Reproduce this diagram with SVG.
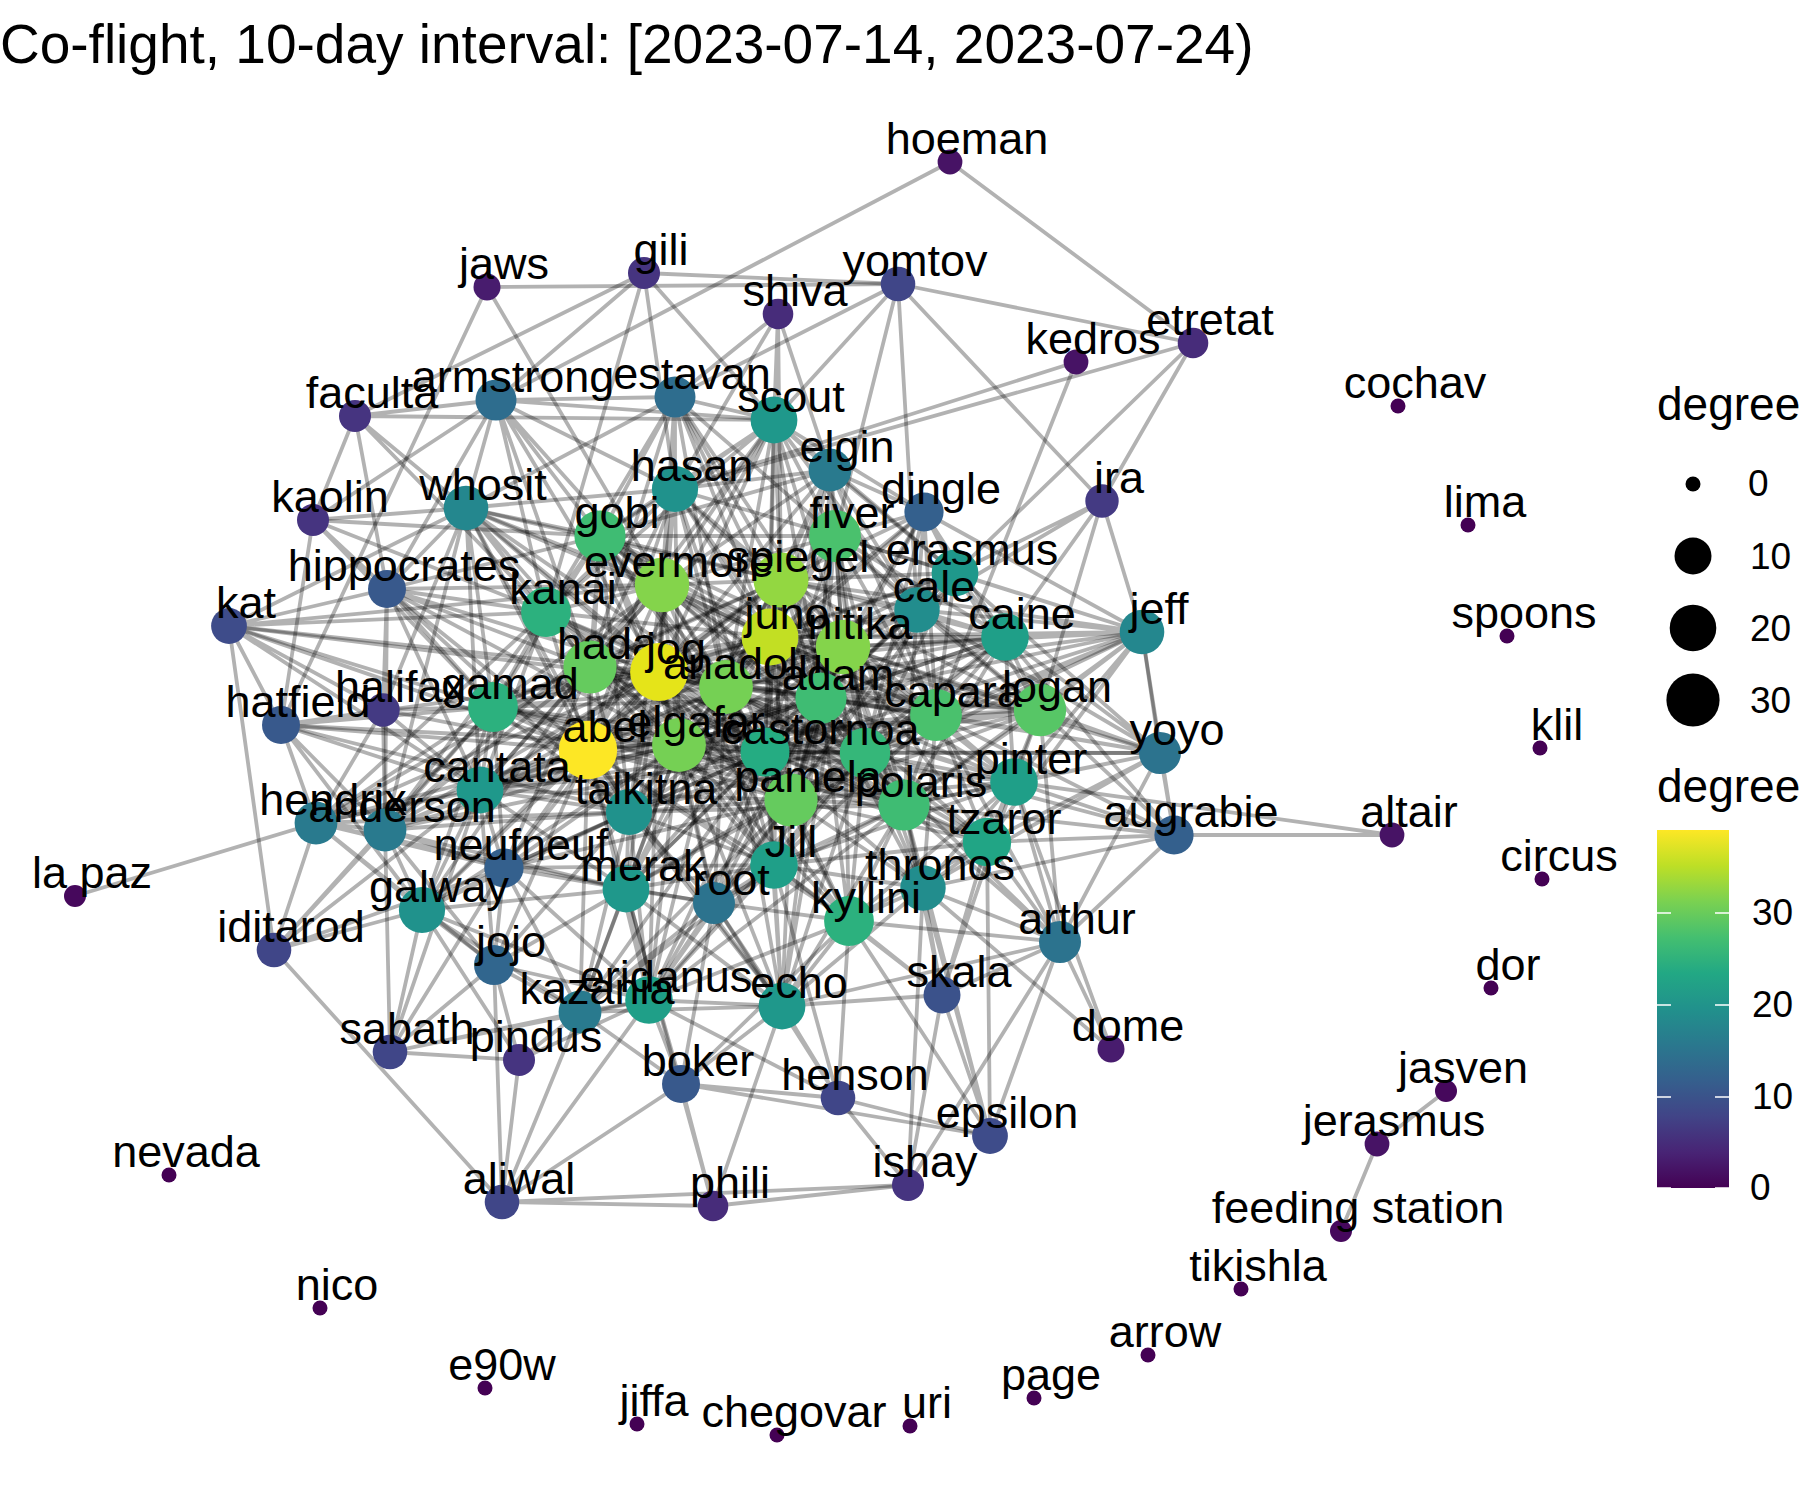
<svg xmlns="http://www.w3.org/2000/svg" width="1800" height="1500" viewBox="0 0 1800 1500">
<defs>
<style>
text{font-family:"Liberation Sans",Arial,Helvetica,sans-serif;fill:#000}
.title{font-size:55px}
.lbl{font-size:45px;text-anchor:middle}
.lgt{font-size:46px}
.lgl{font-size:37px}
.edge{fill:none;stroke:#000;stroke-opacity:0.3;stroke-width:3.8;stroke-linejoin:round}
.tick{stroke:#fff;stroke-width:1.6}
.c0{fill:#440154}.c1{fill:#46085c}.c2{fill:#471365}.c3{fill:#481c6e}.c5{fill:#472c7a}.c6{fill:#463480}.c7{fill:#443a83}.c8{fill:#404688}.c9{fill:#3e4c8a}.c10{fill:#3b528b}.c11{fill:#38598c}.c12{fill:#34608d}.c13{fill:#31668e}.c14{fill:#2e6d8e}.c15{fill:#2c738e}.c16{fill:#297a8e}.c18{fill:#24878e}.c19{fill:#228d8d}.c20{fill:#20928c}.c21{fill:#1f988b}.c22{fill:#1f9f88}.c23{fill:#21a585}.c24{fill:#25ac82}.c25{fill:#2cb17e}.c26{fill:#35b779}.c27{fill:#3fbc73}.c28{fill:#4ac16d}.c29{fill:#57c666}.c30{fill:#65cb5e}.c31{fill:#75d054}.c32{fill:#84d44b}.c33{fill:#93d741}.c36{fill:#c2df23}.c38{fill:#e5e419}.c39{fill:#fde725}
</style>
<linearGradient id="viridis" x1="0" y1="1" x2="0" y2="0">
<stop offset="0" stop-color="#440154"/><stop offset="0.1" stop-color="#482475"/><stop offset="0.2" stop-color="#414487"/><stop offset="0.3" stop-color="#355f8d"/><stop offset="0.4" stop-color="#2a788e"/><stop offset="0.5" stop-color="#21918c"/><stop offset="0.6" stop-color="#22a884"/><stop offset="0.7" stop-color="#44bf70"/><stop offset="0.8" stop-color="#7ad151"/><stop offset="0.9" stop-color="#bddf26"/><stop offset="1" stop-color="#fde725"/>
</linearGradient>
</defs>
<rect width="1800" height="1500" fill="#fff"/>
<text class="title" x="0" y="63">Co-flight, 10-day interval: [2023-07-14, 2023-07-24)</text>
<g id="edges">
<path class="edge" d="M496 400L950 162L1193 343"/>
<path class="edge" d="M898 284L487 287L281 725M662 585L487 287"/>
<path class="edge" d="M898 284L644 273L675 489M496 400L644 273L355 416M546 612L644 273L774 420"/>
<path class="edge" d="M1193 343L898 284L774 420M835 536L898 284L917 610M1102 501L898 284L675 397"/>
<path class="edge" d="M675 397L778 314L774 420M675 489L778 314L830 470M781 580L778 314"/>
<path class="edge" d="M936 715L1076 362L675 489"/>
<path class="edge" d="M675 489L1193 343L1102 501M917 610L1193 343"/>
<path class="edge" d="M774 420L355 416L496 400M313 520L355 416L387 589M546 612L355 416L466 508"/>
<path class="edge" d="M496 400L313 520L387 589M493 707L313 520L546 612M600 536L313 520"/>
<path class="edge" d="M274 950L229 626L281 725M387 589L229 626L546 612M493 707L229 626L383 710M662 585L229 626L659 672M480 790L229 626"/>
<path class="edge" d="M383 710L281 725L493 707M385 830L281 725L316 823M480 790L281 725L422 910M588 750L281 725L659 672M313 520L281 725"/>
<path class="edge" d="M502 1202L274 950L422 910M316 823L274 950L385 830M480 790L274 950L493 707M504 868L274 950"/>
<path class="edge" d="M75 896L316 823"/>
<path class="edge" d="M1174 835L1392 835L1014 782"/>
<path class="edge" d="M1446 1091L1377 1144L1341 1231"/>
<path class="edge" d="M519 1060L390 1052L580 1012M422 910L390 1052L494 965M649 1000L390 1052L504 868M480 790L390 1052L385 830"/>
<path class="edge" d="M502 1202L519 1060L580 1012M649 1000L519 1060L494 965M422 910L519 1060"/>
<path class="edge" d="M713 1206L502 1202L908 1185M649 1000L502 1202L681 1084M580 1012L502 1202L494 965"/>
<path class="edge" d="M908 1185L713 1206L681 1084M782 1006L713 1206L626 889"/>
<path class="edge" d="M838 1098L908 1185L942 995M1060 942L908 1185L923 888"/>
<path class="edge" d="M838 1098L681 1084L990 1136M649 1000L681 1084L782 1006M580 1012L681 1084L626 889M714 903L681 1084L849 921"/>
<path class="edge" d="M990 1136L838 1098L782 1006M774 865L838 1098L849 921M714 903L838 1098L649 1000"/>
<path class="edge" d="M942 995L990 1136L1060 942M849 921L990 1136L923 888M987 842L990 1136L904 805"/>
<path class="edge" d="M1060 942L942 995L782 1006M849 921L942 995L923 888M987 842L942 995L904 805M1014 782L942 995L774 865"/>
<path class="edge" d="M1060 942L1111 1049L923 888M1014 782L1111 1049"/>
<path class="edge" d="M1174 835L1060 942L1160 753M1014 782L1060 942L987 842M904 805L1060 942L923 888M849 921L1060 942L1040 710M865 753L1060 942L936 715M782 1006L1060 942"/>
<path class="edge" d="M1160 753L1174 835L1014 782M987 842L1174 835L1040 710M904 805L1174 835L923 888M936 715L1174 835L865 753M1142 632L1174 835L1005 637"/>
<path class="edge" d="M1142 632L1160 753L1040 710M1014 782L1160 753L1005 637M936 715L1160 753L987 842M843 647L1160 753L821 698M865 753L1160 753L904 805M917 610L1160 753L955 573M923 888L1160 753"/>
<path class="edge" d="M1102 501L1142 632L1005 637M1040 710L1142 632L917 610M955 573L1142 632L936 715M843 647L1142 632L770 637M821 698L1142 632L1014 782M865 753L1142 632L924 512M781 580L1142 632L835 536M904 805L1142 632L987 842"/>
<path class="edge" d="M1005 637L1102 501L1040 710M955 573L1102 501L917 610"/>
<path class="edge" d="M466 508L496 400L675 489M600 536L496 400L546 612M662 585L496 400L659 672M590 667L496 400L387 589M675 397L496 400L774 420"/>
<path class="edge" d="M675 489L675 397L600 536M662 585L675 397L781 580M774 420L675 397L546 612M659 672L675 397L770 637M466 508L675 397L835 536M726 687L675 397"/>
<path class="edge" d="M830 470L774 420L675 489M600 536L774 420L662 585M781 580L774 420L835 536M770 637L774 420L843 647M659 672L774 420L726 687M546 612L774 420L917 610M955 573L774 420L924 512M821 698L774 420"/>
<path class="edge" d="M675 489L830 470L835 536M781 580L830 470L770 637M843 647L830 470L917 610M955 573L830 470L924 512M662 585L830 470L726 687M821 698L830 470L659 672M600 536L830 470"/>
<path class="edge" d="M835 536L924 512L955 573M917 610L924 512L781 580M770 637L924 512L843 647M1005 637L924 512L936 715"/>
<path class="edge" d="M466 508L675 489L600 536M662 585L675 489L781 580M546 612L675 489L659 672M590 667L675 489L770 637M726 687L675 489L835 536M679 745L675 489L588 750"/>
<path class="edge" d="M313 520L466 508L387 589M600 536L466 508L546 612M662 585L466 508L659 672M590 667L466 508L493 707M588 750L466 508L383 710M229 626L466 508L480 790M385 830L466 508L679 745"/>
<path class="edge" d="M546 612L387 589L493 707M383 710L387 589L590 667M659 672L387 589L588 750M480 790L387 589L385 830M600 536L387 589"/>
<path class="edge" d="M493 707L383 710L385 830M480 790L383 710L588 750"/>
<path class="edge" d="M385 830L316 823L480 790M422 910L316 823L493 707M588 750L316 823L504 868M659 672L316 823L494 965M629 812L316 823L626 889M383 710L316 823"/>
<path class="edge" d="M480 790L385 830L422 910M493 707L385 830L588 750M504 868L385 830L494 965M629 812L385 830L626 889M659 672L385 830L679 745M590 667L385 830"/>
<path class="edge" d="M480 790L422 910L504 868M494 965L422 910L580 1012M588 750L422 910L629 812M626 889L422 910L649 1000M493 707L422 910"/>
<path class="edge" d="M504 868L494 965L580 1012M480 790L494 965L629 812M626 889L494 965L649 1000M588 750L494 965"/>
<path class="edge" d="M480 790L504 868L629 812M626 889L504 868L588 750M580 1012L504 868L714 903M649 1000L504 868L679 745"/>
<path class="edge" d="M649 1000L580 1012L626 889M629 812L580 1012L714 903M782 1006L580 1012L588 750M774 865L580 1012"/>
<path class="edge" d="M782 1006L649 1000L626 889M714 903L649 1000L629 812M774 865L649 1000L849 921M791 800L649 1000L765 752M679 745L649 1000L588 750"/>
<path class="edge" d="M714 903L782 1006L774 865M849 921L782 1006L626 889M791 800L782 1006L923 888M765 752L782 1006L904 805M865 753L782 1006L629 812"/>
<path class="edge" d="M714 903L626 889L629 812M774 865L626 889L588 750M679 745L626 889L791 800M480 790L626 889L765 752"/>
<path class="edge" d="M774 865L714 903L629 812M791 800L714 903L849 921M765 752L714 903L679 745"/>
<path class="edge" d="M774 865L849 921L923 888M791 800L849 921L904 805M987 842L849 921L865 753M765 752L849 921L1014 782"/>
<path class="edge" d="M987 842L923 888L904 805M791 800L923 888L865 753M1014 782L923 888L774 865M936 715L923 888"/>
<path class="edge" d="M1014 782L987 842L904 805M865 753L987 842L936 715M1040 710L987 842L791 800M774 865L987 842"/>
<path class="edge" d="M1040 710L1014 782L936 715M904 805L1014 782L865 753M1005 637L1014 782L821 698M843 647L1014 782"/>
<path class="edge" d="M936 715L1040 710L1005 637M865 753L1040 710L821 698M843 647L1040 710L917 610M955 573L1040 710L904 805M770 637L1040 710L791 800"/>
<path class="edge" d="M936 715L1005 637L917 610M955 573L1005 637L843 647M821 698L1005 637L770 637M865 753L1005 637L781 580M835 536L1005 637"/>
<path class="edge" d="M917 610L955 573L835 536M781 580L955 573L770 637M843 647L955 573L821 698M936 715L955 573"/>
<path class="edge" d="M835 536L917 610L781 580M770 637L917 610L843 647M821 698L917 610L936 715M865 753L917 610L726 687"/>
<path class="edge" d="M781 580L835 536L770 637M843 647L835 536L662 585M600 536L835 536L659 672M726 687L835 536L821 698M765 752L835 536"/>
<path class="edge" d="M662 585L600 536L781 580M546 612L600 536L590 667M659 672L600 536L770 637M726 687L600 536L679 745M588 750L600 536L493 707"/>
<path class="edge" d="M662 585L546 612L590 667M659 672L546 612L493 707M588 750L546 612L679 745M726 687L546 612L480 790M770 637L546 612"/>
<path class="edge" d="M781 580L662 585L770 637M659 672L662 585L590 667M726 687L662 585L679 745M588 750L662 585L821 698M843 647L662 585L765 752M493 707L662 585"/>
<path class="edge" d="M770 637L781 580L843 647M659 672L781 580L726 687M821 698L781 580L679 745M765 752L781 580L865 753M936 715L781 580L590 667"/>
<path class="edge" d="M843 647L770 637L659 672M726 687L770 637L821 698M679 745L770 637L765 752M865 753L770 637L791 800M936 715L770 637L904 805M590 667L770 637L588 750"/>
<path class="edge" d="M659 672L843 647L726 687M821 698L843 647L765 752M865 753L843 647L936 715M791 800L843 647L904 805"/>
<path class="edge" d="M659 672L590 667L726 687M588 750L590 667L679 745M493 707L590 667L765 752M629 812L590 667L480 790"/>
<path class="edge" d="M726 687L659 672L588 750M679 745L659 672L765 752M821 698L659 672L791 800M865 753L659 672L629 812M493 707L659 672L480 790M904 805L659 672L774 865M626 889L659 672"/>
<path class="edge" d="M821 698L726 687L679 745M765 752L726 687L588 750M865 753L726 687L791 800M904 805L726 687"/>
<path class="edge" d="M765 752L821 698L865 753M936 715L821 698L791 800M904 805L821 698L679 745"/>
<path class="edge" d="M588 750L493 707L480 790M679 745L493 707L629 812M504 868L493 707"/>
<path class="edge" d="M865 753L936 715L904 805M791 800L936 715L765 752"/>
<path class="edge" d="M679 745L588 750L765 752M480 790L588 750L629 812M791 800L588 750L774 865M865 753L588 750"/>
<path class="edge" d="M765 752L679 745L791 800M629 812L679 745L865 753M774 865L679 745L904 805M480 790L679 745"/>
<path class="edge" d="M865 753L765 752L791 800M904 805L765 752L774 865M629 812L765 752"/>
<path class="edge" d="M791 800L865 753L904 805M774 865L865 753"/>
<path class="edge" d="M629 812L480 790L791 800"/>
<path class="edge" d="M791 800L629 812L774 865"/>
<path class="edge" d="M904 805L791 800L774 865"/>
<path class="edge" d="M904 805L774 865"/>
<path class="edge" d="M726 687L229 626L588 750"/>
<path class="edge" d="M679 745L281 725L629 812"/>
<path class="edge" d="M726 687L1142 632L765 752M791 800L1142 632"/>
<path class="edge" d="M770 637L1160 753L765 752"/>
<path class="edge" d="M726 687L1040 710L659 672M765 752L1040 710L679 745M588 750L1040 710L781 580M835 536L1040 710"/>
<path class="edge" d="M659 672L1005 637L726 687M791 800L1005 637L904 805M765 752L1005 637L679 745"/>
<path class="edge" d="M659 672L936 715L726 687M679 745L936 715L590 667M588 750L936 715L629 812M774 865L936 715L835 536M600 536L936 715L662 585"/>
<path class="edge" d="M770 637L1014 782L791 800M765 752L1014 782L774 865M679 745L1014 782L726 687M659 672L1014 782"/>
<path class="edge" d="M590 667L904 805L588 750M629 812L904 805L493 707M781 580L904 805L835 536M662 585L904 805"/>
<path class="edge" d="M765 752L987 842L821 698M843 647L987 842L726 687M679 745L987 842"/>
<path class="edge" d="M590 667L865 753L629 812M493 707L865 753L480 790M835 536L865 753L600 536M546 612L865 753"/>
<path class="edge" d="M590 667L791 800L600 536M546 612L791 800L493 707M662 585L791 800L781 580M835 536L791 800"/>
<path class="edge" d="M600 536L765 752L546 612M493 707L765 752L480 790"/>
<path class="edge" d="M781 580L629 812L662 585M770 637L629 812L843 647M821 698L629 812L726 687M600 536L629 812"/>
<path class="edge" d="M770 637L774 865L843 647M821 698L774 865L726 687M781 580L774 865L662 585M590 667L774 865"/>
<path class="edge" d="M726 687L626 889L770 637M843 647L626 889L821 698M865 753L626 889"/>
<path class="edge" d="M659 672L649 1000L726 687M821 698L649 1000L865 753M904 805L649 1000"/>
<path class="edge" d="M821 698L782 1006L843 647M726 687L782 1006L679 745M588 750L782 1006"/>
<path class="edge" d="M821 698L849 921L726 687M679 745L849 921L588 750M659 672L849 921L843 647"/>
<path class="edge" d="M726 687L480 790L770 637M781 580L480 790L662 585M821 698L480 790"/>
<path class="edge" d="M770 637L493 707L781 580M726 687L493 707L821 698"/>
<path class="edge" d="M821 698L588 750L781 580M843 647L588 750"/>
<path class="edge" d="M843 647L679 745"/>
<path class="edge" d="M726 687L466 508L770 637M781 580L466 508L629 812M765 752L466 508"/>
<path class="edge" d="M662 585L387 589L679 745M629 812L387 589"/>
<path class="edge" d="M659 672L422 910L679 745M590 667L422 910"/>
<path class="edge" d="M659 672L504 868L590 667M765 752L504 868L791 800M774 865L504 868"/>
<path class="edge" d="M662 585L385 830L546 612M765 752L385 830"/>
<path class="edge" d="M546 612L316 823L679 745M590 667L316 823"/>
<path class="edge" d="M679 745L580 1012L765 752M791 800L580 1012"/>
<path class="edge" d="M726 687L714 903L821 698M865 753L714 903L904 805M659 672L714 903"/>
<path class="edge" d="M821 698L923 888L765 752M843 647L923 888"/>
<path class="edge" d="M590 667L774 420L588 750M765 752L774 420"/>
<path class="edge" d="M765 752L830 470L865 753M936 715L830 470"/>
<path class="edge" d="M726 687L955 573L659 672M865 753L955 573L791 800"/>
<path class="edge" d="M659 672L917 610L765 752M791 800L917 610L904 805"/>
<path class="edge" d="M821 698L924 512L726 687M865 753L924 512"/>
<path class="edge" d="M765 752L675 489L821 698M843 647L675 489"/>
<path class="edge" d="M590 667L675 397L843 647M821 698L675 397"/>
<path class="edge" d="M843 647L600 536L821 698"/>
</g>
<g id="nodes">
<g id="node-hoeman"><circle cx="950" cy="162" r="12.4" class="c2"/><text class="lbl" x="967" y="154">hoeman</text></g>
<g id="node-gili"><circle cx="644" cy="273" r="16" class="c6"/><text class="lbl" x="661" y="265">gili</text></g>
<g id="node-yomtov"><circle cx="898" cy="284" r="17.3" class="c8"/><text class="lbl" x="915" y="276">yomtov</text></g>
<g id="node-jaws"><circle cx="487" cy="287" r="13.5" class="c3"/><text class="lbl" x="504" y="279">jaws</text></g>
<g id="node-shiva"><circle cx="778" cy="314" r="15.3" class="c5"/><text class="lbl" x="795" y="306">shiva</text></g>
<g id="node-etretat"><circle cx="1193" cy="343" r="15.3" class="c5"/><text class="lbl" x="1210" y="335">etretat</text></g>
<g id="node-kedros"><circle cx="1076" cy="362" r="12.4" class="c2"/><text class="lbl" x="1093" y="354">kedros</text></g>
<g id="node-estavan"><circle cx="675" cy="397" r="20.5" class="c14"/><text class="lbl" x="692" y="389">estavan</text></g>
<g id="node-armstrong"><circle cx="496" cy="400" r="20.5" class="c14"/><text class="lbl" x="513" y="392">armstrong</text></g>
<g id="node-cochav"><circle cx="1398" cy="406" r="7.5" class="c0"/><text class="lbl" x="1415" y="398">cochav</text></g>
<g id="node-faculta"><circle cx="355" cy="416" r="16" class="c6"/><text class="lbl" x="372" y="408">faculta</text></g>
<g id="node-scout"><circle cx="774" cy="420" r="23.4" class="c21"/><text class="lbl" x="791" y="412">scout</text></g>
<g id="node-elgin"><circle cx="830" cy="470" r="21.4" class="c16"/><text class="lbl" x="847" y="462">elgin</text></g>
<g id="node-hasan"><circle cx="675" cy="489" r="23.1" class="c20"/><text class="lbl" x="692" y="481">hasan</text></g>
<g id="node-ira"><circle cx="1102" cy="501" r="16.7" class="c7"/><text class="lbl" x="1119" y="493">ira</text></g>
<g id="node-whosit"><circle cx="466" cy="508" r="22.3" class="c18"/><text class="lbl" x="483" y="500">whosit</text></g>
<g id="node-dingle"><circle cx="924" cy="512" r="19.6" class="c12"/><text class="lbl" x="941" y="504">dingle</text></g>
<g id="node-kaolin"><circle cx="313" cy="520" r="16" class="c6"/><text class="lbl" x="330" y="512">kaolin</text></g>
<g id="node-lima"><circle cx="1468" cy="525" r="7.5" class="c0"/><text class="lbl" x="1485" y="517">lima</text></g>
<g id="node-gobi"><circle cx="600" cy="536" r="25.6" class="c27"/><text class="lbl" x="617" y="528">gobi</text></g>
<g id="node-fiver"><circle cx="835" cy="536" r="25.9" class="c28"/><text class="lbl" x="852" y="528">fiver</text></g>
<g id="node-erasmus"><circle cx="955" cy="573" r="23.4" class="c21"/><text class="lbl" x="972" y="565">erasmus</text></g>
<g id="node-spiegel"><circle cx="781" cy="580" r="27.5" class="c33"/><text class="lbl" x="798" y="572">spiegel</text></g>
<g id="node-evermore"><circle cx="662" cy="585" r="27.2" class="c32"/><text class="lbl" x="679" y="577">evermore</text></g>
<g id="node-hippocrates"><circle cx="387" cy="589" r="19" class="c11"/><text class="lbl" x="404" y="581">hippocrates</text></g>
<g id="node-cale"><circle cx="917" cy="610" r="22.7" class="c19"/><text class="lbl" x="934" y="602">cale</text></g>
<g id="node-kanai"><circle cx="546" cy="612" r="24.9" class="c25"/><text class="lbl" x="563" y="604">kanai</text></g>
<g id="node-kat"><circle cx="229" cy="626" r="17.9" class="c9"/><text class="lbl" x="246" y="618">kat</text></g>
<g id="node-jeff"><circle cx="1142" cy="632" r="22.3" class="c18"/><text class="lbl" x="1159" y="624">jeff</text></g>
<g id="node-spoons"><circle cx="1507" cy="636" r="7.5" class="c0"/><text class="lbl" x="1524" y="628">spoons</text></g>
<g id="node-juno"><circle cx="770" cy="637" r="28.4" class="c36"/><text class="lbl" x="787" y="629">juno</text></g>
<g id="node-caine"><circle cx="1005" cy="637" r="23.8" class="c22"/><text class="lbl" x="1022" y="629">caine</text></g>
<g id="node-nitika"><circle cx="843" cy="647" r="27.2" class="c32"/><text class="lbl" x="860" y="639">nitika</text></g>
<g id="node-hada"><circle cx="590" cy="667" r="26.6" class="c30"/><text class="lbl" x="607" y="659">hada</text></g>
<g id="node-jog"><circle cx="659" cy="672" r="28.9" class="c38"/><text class="lbl" x="676" y="664">jog</text></g>
<g id="node-anadolu"><circle cx="726" cy="687" r="26.9" class="c31"/><text class="lbl" x="743" y="679">anadolu</text></g>
<g id="node-adam"><circle cx="821" cy="698" r="25.6" class="c27"/><text class="lbl" x="838" y="690">adam</text></g>
<g id="node-gamad"><circle cx="493" cy="707" r="24.9" class="c25"/><text class="lbl" x="510" y="699">gamad</text></g>
<g id="node-halifax"><circle cx="383" cy="710" r="16.7" class="c7"/><text class="lbl" x="400" y="702">halifax</text></g>
<g id="node-logan"><circle cx="1040" cy="710" r="26.2" class="c29"/><text class="lbl" x="1057" y="702">logan</text></g>
<g id="node-capara"><circle cx="936" cy="715" r="25.9" class="c28"/><text class="lbl" x="953" y="707">capara</text></g>
<g id="node-hatfield"><circle cx="281" cy="725" r="19" class="c11"/><text class="lbl" x="298" y="717">hatfield</text></g>
<g id="node-elgafar"><circle cx="679" cy="745" r="26.9" class="c31"/><text class="lbl" x="696" y="737">elgafar</text></g>
<g id="node-klil"><circle cx="1540" cy="748" r="7.5" class="c0"/><text class="lbl" x="1557" y="740">klil</text></g>
<g id="node-abel"><circle cx="588" cy="750" r="29.2" class="c39"/><text class="lbl" x="605" y="742">abel</text></g>
<g id="node-castor"><circle cx="765" cy="752" r="24.5" class="c24"/><text class="lbl" x="782" y="744">castor</text></g>
<g id="node-noa"><circle cx="865" cy="753" r="25.2" class="c26"/><text class="lbl" x="882" y="745">noa</text></g>
<g id="node-yoyo"><circle cx="1160" cy="753" r="21" class="c15"/><text class="lbl" x="1177" y="745">yoyo</text></g>
<g id="node-pinter"><circle cx="1014" cy="782" r="23.8" class="c22"/><text class="lbl" x="1031" y="774">pinter</text></g>
<g id="node-cantata"><circle cx="480" cy="790" r="23.4" class="c21"/><text class="lbl" x="497" y="782">cantata</text></g>
<g id="node-pamela"><circle cx="791" cy="800" r="26.6" class="c30"/><text class="lbl" x="808" y="792">pamela</text></g>
<g id="node-polaris"><circle cx="904" cy="805" r="25.6" class="c27"/><text class="lbl" x="921" y="797">polaris</text></g>
<g id="node-talkitna"><circle cx="629" cy="812" r="23.1" class="c20"/><text class="lbl" x="646" y="804">talkitna</text></g>
<g id="node-hendrix"><circle cx="316" cy="823" r="21.4" class="c16"/><text class="lbl" x="333" y="815">hendrix</text></g>
<g id="node-anderson"><circle cx="385" cy="830" r="21.4" class="c16"/><text class="lbl" x="402" y="822">anderson</text></g>
<g id="node-augrabie"><circle cx="1174" cy="835" r="19.6" class="c12"/><text class="lbl" x="1191" y="827">augrabie</text></g>
<g id="node-altair"><circle cx="1392" cy="835" r="12.4" class="c2"/><text class="lbl" x="1409" y="827">altair</text></g>
<g id="node-tzaror"><circle cx="987" cy="842" r="24.2" class="c23"/><text class="lbl" x="1004" y="834">tzaror</text></g>
<g id="node-jill"><circle cx="774" cy="865" r="23.8" class="c22"/><text class="lbl" x="791" y="857">Jill</text></g>
<g id="node-neufneuf"><circle cx="504" cy="868" r="19.6" class="c12"/><text class="lbl" x="521" y="860">neufneuf</text></g>
<g id="node-circus"><circle cx="1542" cy="879" r="7.5" class="c0"/><text class="lbl" x="1559" y="871">circus</text></g>
<g id="node-thronos"><circle cx="923" cy="888" r="22.7" class="c19"/><text class="lbl" x="940" y="880">thronos</text></g>
<g id="node-merak"><circle cx="626" cy="889" r="23.4" class="c21"/><text class="lbl" x="643" y="881">merak</text></g>
<g id="node-la-paz"><circle cx="75" cy="896" r="11" class="c1"/><text class="lbl" x="92" y="888">la paz</text></g>
<g id="node-root"><circle cx="714" cy="903" r="21" class="c15"/><text class="lbl" x="731" y="895">root</text></g>
<g id="node-galway"><circle cx="422" cy="910" r="23.1" class="c20"/><text class="lbl" x="439" y="902">galway</text></g>
<g id="node-kyllini"><circle cx="849" cy="921" r="24.9" class="c25"/><text class="lbl" x="866" y="913">kyllini</text></g>
<g id="node-arthur"><circle cx="1060" cy="942" r="21" class="c15"/><text class="lbl" x="1077" y="934">arthur</text></g>
<g id="node-iditarod"><circle cx="274" cy="950" r="17.3" class="c8"/><text class="lbl" x="291" y="942">iditarod</text></g>
<g id="node-jojo"><circle cx="494" cy="965" r="20" class="c13"/><text class="lbl" x="511" y="957">jojo</text></g>
<g id="node-dor"><circle cx="1491" cy="988" r="7.5" class="c0"/><text class="lbl" x="1508" y="980">dor</text></g>
<g id="node-skala"><circle cx="942" cy="995" r="18.5" class="c10"/><text class="lbl" x="959" y="987">skala</text></g>
<g id="node-eridanus"><circle cx="649" cy="1000" r="23.8" class="c22"/><text class="lbl" x="666" y="992">eridanus</text></g>
<g id="node-echo"><circle cx="782" cy="1006" r="23.4" class="c21"/><text class="lbl" x="799" y="998">echo</text></g>
<g id="node-kazania"><circle cx="580" cy="1012" r="21.4" class="c16"/><text class="lbl" x="597" y="1004">kazania</text></g>
<g id="node-dome"><circle cx="1111" cy="1049" r="13.5" class="c3"/><text class="lbl" x="1128" y="1041">dome</text></g>
<g id="node-sabath"><circle cx="390" cy="1052" r="17.3" class="c8"/><text class="lbl" x="407" y="1044">sabath</text></g>
<g id="node-pindus"><circle cx="519" cy="1060" r="16" class="c6"/><text class="lbl" x="536" y="1052">pindus</text></g>
<g id="node-boker"><circle cx="681" cy="1084" r="19" class="c11"/><text class="lbl" x="698" y="1076">boker</text></g>
<g id="node-jasven"><circle cx="1446" cy="1091" r="11" class="c1"/><text class="lbl" x="1463" y="1083">jasven</text></g>
<g id="node-henson"><circle cx="838" cy="1098" r="17.3" class="c8"/><text class="lbl" x="855" y="1090">henson</text></g>
<g id="node-epsilon"><circle cx="990" cy="1136" r="17.9" class="c9"/><text class="lbl" x="1007" y="1128">epsilon</text></g>
<g id="node-jerasmus"><circle cx="1377" cy="1144" r="12.4" class="c2"/><text class="lbl" x="1394" y="1136">jerasmus</text></g>
<g id="node-nevada"><circle cx="169" cy="1175" r="7.5" class="c0"/><text class="lbl" x="186" y="1167">nevada</text></g>
<g id="node-ishay"><circle cx="908" cy="1185" r="16" class="c6"/><text class="lbl" x="925" y="1177">ishay</text></g>
<g id="node-aliwal"><circle cx="502" cy="1202" r="17.3" class="c8"/><text class="lbl" x="519" y="1194">aliwal</text></g>
<g id="node-phili"><circle cx="713" cy="1206" r="15.3" class="c5"/><text class="lbl" x="730" y="1198">phili</text></g>
<g id="node-feeding-station"><circle cx="1341" cy="1231" r="11" class="c1"/><text class="lbl" x="1358" y="1223">feeding station</text></g>
<g id="node-tikishla"><circle cx="1241" cy="1289" r="7.5" class="c0"/><text class="lbl" x="1258" y="1281">tikishla</text></g>
<g id="node-nico"><circle cx="320" cy="1308" r="7.5" class="c0"/><text class="lbl" x="337" y="1300">nico</text></g>
<g id="node-arrow"><circle cx="1148" cy="1355" r="7.5" class="c0"/><text class="lbl" x="1165" y="1347">arrow</text></g>
<g id="node-e90w"><circle cx="485" cy="1388" r="7.5" class="c0"/><text class="lbl" x="502" y="1380">e90w</text></g>
<g id="node-page"><circle cx="1034" cy="1398" r="7.5" class="c0"/><text class="lbl" x="1051" y="1390">page</text></g>
<g id="node-jiffa"><circle cx="637" cy="1424" r="7.5" class="c0"/><text class="lbl" x="654" y="1416">jiffa</text></g>
<g id="node-uri"><circle cx="910" cy="1426" r="7.5" class="c0"/><text class="lbl" x="927" y="1418">uri</text></g>
<g id="node-chegovar"><circle cx="777" cy="1435" r="7.5" class="c0"/><text class="lbl" x="794" y="1427">chegovar</text></g>
</g>
<g id="legend-size">
<text class="lgt" x="1657" y="420">degree</text>
<circle cx="1693" cy="484" r="7.5" fill="#000"/>
<circle cx="1693" cy="556" r="18.5" fill="#000"/>
<circle cx="1693" cy="628" r="23.3" fill="#000"/>
<circle cx="1693" cy="700" r="26.6" fill="#000"/>
<text class="lgl" x="1748" y="496">0</text>
<text class="lgl" x="1750" y="569">10</text>
<text class="lgl" x="1750" y="641">20</text>
<text class="lgl" x="1750" y="713">30</text>
</g>
<g id="legend-colour">
<text class="lgt" x="1657" y="802">degree</text>
<rect x="1657" y="830" width="72" height="358" fill="url(#viridis)"/>
<path class="tick" d="M1657 913H1671M1715 913H1729M1657 1005H1671M1715 1005H1729M1657 1097H1671M1715 1097H1729M1657 1188H1671M1715 1188H1729"/>
<text class="lgl" x="1752" y="925">30</text>
<text class="lgl" x="1752" y="1017">20</text>
<text class="lgl" x="1752" y="1109">10</text>
<text class="lgl" x="1750" y="1200">0</text>
</g>
</svg>
